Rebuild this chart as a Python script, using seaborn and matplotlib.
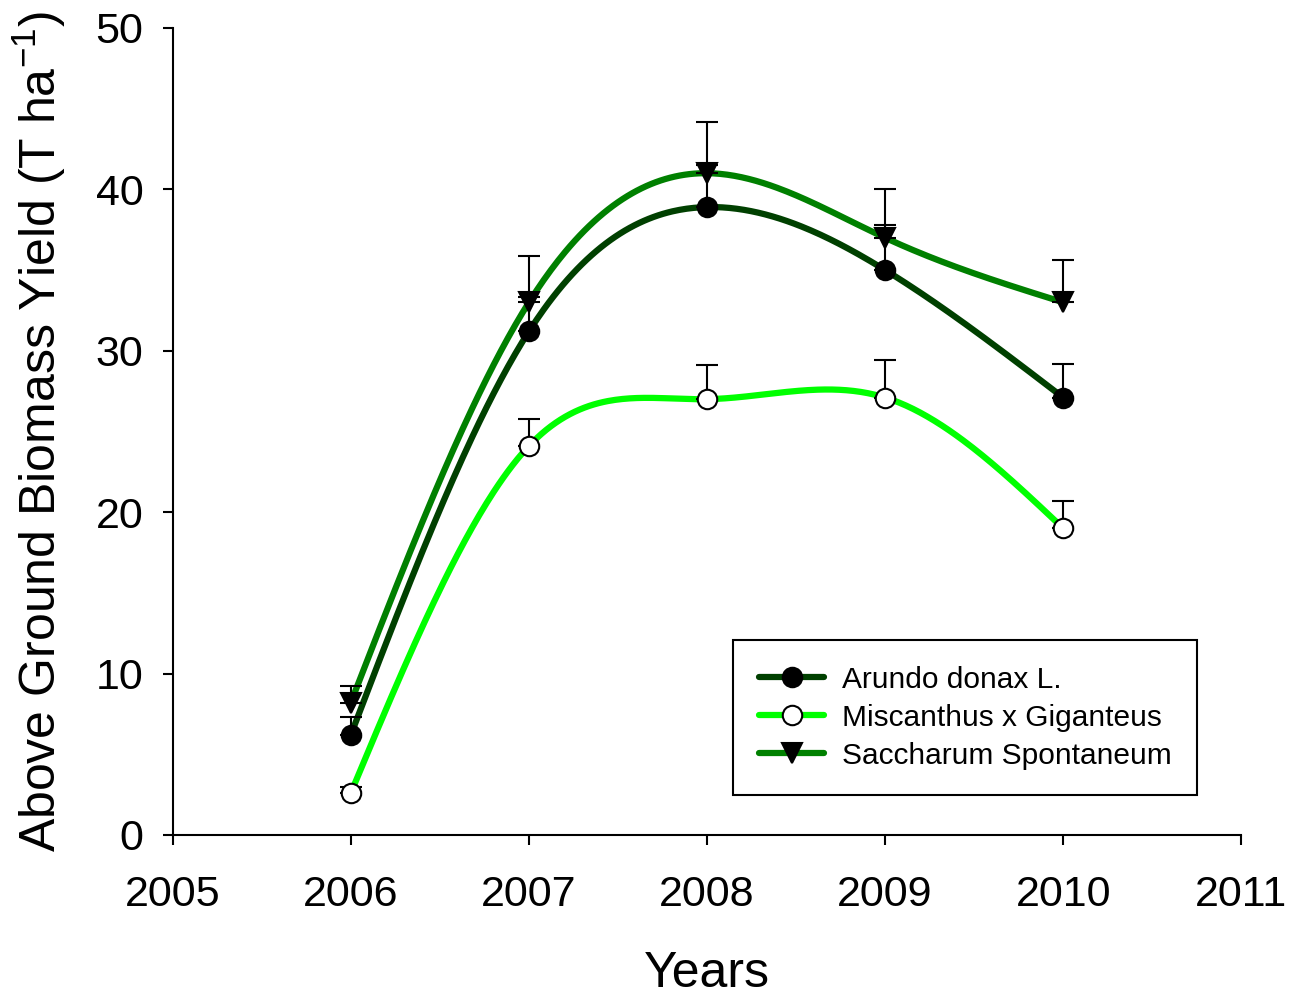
import numpy as np
import pandas as pd
import matplotlib
matplotlib.use("Agg")
import matplotlib.pyplot as plt
import seaborn as sns
from matplotlib.lines import Line2D

years = [2006, 2007, 2008, 2009, 2010]
arundo = [6.2, 31.2, 38.9, 35.0, 27.1]
arundo_err = [1.1, 2.1, 2.6, 2.8, 2.1]
miscanthus = [2.6, 24.1, 27.0, 27.1, 19.0]
miscanthus_err = [0.4, 1.7, 2.1, 2.3, 1.7]
saccharum = [8.2, 33.0, 41.0, 37.0, 33.0]
saccharum_err = [1.0, 2.9, 3.2, 3.0, 2.6]
labels = ["Arundo donax L.", "Miscanthus x Giganteus", "Saccharum Spontaneum"]
colors = ["#004000", "#00FF00", "#008000"]
xticks = [2005, 2006, 2007, 2008, 2009, 2010, 2011]
yticks = [0, 10, 20, 30, 40, 50]


def natural_spline(x, y, xs):
    x = np.asarray(x, float); y = np.asarray(y, float)
    n = len(x)
    h = np.diff(x)
    A = np.zeros((n, n)); b = np.zeros(n)
    A[0, 0] = 1; A[-1, -1] = 1
    for i in range(1, n - 1):
        A[i, i - 1] = h[i - 1]
        A[i, i] = 2 * (h[i - 1] + h[i])
        A[i, i + 1] = h[i]
        b[i] = 6 * ((y[i + 1] - y[i]) / h[i] - (y[i] - y[i - 1]) / h[i - 1])
    M = np.linalg.solve(A, b)
    out = np.empty_like(xs)
    for k, t in enumerate(xs):
        i = min(np.searchsorted(x, t, side="right") - 1, n - 2)
        i = max(i, 0)
        dx1 = x[i + 1] - t; dx0 = t - x[i]
        out[k] = (M[i] * dx1 ** 3 / (6 * h[i]) + M[i + 1] * dx0 ** 3 / (6 * h[i])
                  + (y[i] / h[i] - M[i] * h[i] / 6) * dx1
                  + (y[i + 1] / h[i] - M[i + 1] * h[i] / 6) * dx0)
    return out


sns.set_theme(style="ticks")
plt.rcParams["font.family"] = ["Liberation Sans", "DejaVu Sans"]
plt.rcParams["mathtext.default"] = "regular"
plt.rcParams["text.color"] = "black"
plt.rcParams["axes.labelcolor"] = "black"
plt.rcParams["xtick.color"] = "black"
plt.rcParams["ytick.color"] = "black"

fig = plt.figure(figsize=(12.89, 9.97), dpi=100)
ax = fig.add_axes([0.134, 0.1625, 0.829, 0.8095])

series = [(arundo, arundo_err, "o", "black"),
          (miscanthus, miscanthus_err, "o", "white"),
          (saccharum, saccharum_err, "v", "black")]

xs = np.linspace(years[0], years[-1], 300)
frames = []
for lab, (vals, _, _, _) in zip(labels, series):
    frames.append(pd.DataFrame({"year": xs, "value": natural_spline(years, vals, xs), "series": lab}))
curves = pd.concat(frames)
sns.lineplot(data=curves, x="year", y="value", hue="series", palette=dict(zip(labels, colors)),
             linewidth=4.5, ax=ax, legend=False, zorder=2, estimator=None, sort=False)

for lab, (vals, err, mk, fc) in zip(labels, series):
    ax.errorbar(years, vals, yerr=[np.zeros(len(err)), err], fmt="none", ecolor="black",
                elinewidth=1.5, capsize=8, capthick=1.5, zorder=3)

for lab, (vals, err, mk, fc), col in zip(labels, series, colors):
    ax.plot(years, vals, linestyle="none", marker=mk, markersize=14, markerfacecolor=fc,
            markeredgecolor="black", markeredgewidth=1.5, zorder=4)

ax.set_xlim(2005, 2011)
ax.set_ylim(0, 50)
ax.set_xticks(xticks)
ax.set_yticks(yticks)
ax.set_xticklabels([str(t) for t in xticks])
ax.tick_params(axis="both", which="major", labelsize=31, length=7, width=1.5, color="black",
               labelcolor="black", direction="out")
ax.tick_params(axis="x", pad=22)
ax.tick_params(axis="y", pad=14)
for s in ["left", "bottom"]:
    ax.spines[s].set_linewidth(1.5)
    ax.spines[s].set_color("black")
sns.despine(ax=ax)

ax.set_xlabel("Years", fontsize=36, labelpad=26, color="black")
ax.set_ylabel("Above Ground Biomass Yield (T ha$^{-1}$)", fontsize=36, labelpad=20, color="black")

handles = []
for (vals, err, mk, fc), col in zip(series, colors):
    handles.append(Line2D([0], [0], color=col, linewidth=4.5, marker=mk, markersize=14,
                          markerfacecolor=fc, markeredgecolor="black", markeredgewidth=1.5))
leg = ax.legend(handles, labels, loc="lower right", bbox_to_anchor=(0.959, 0.0496),
                borderaxespad=0, fontsize=21.5, frameon=True, fancybox=False, edgecolor="black",
                handlelength=2.2, borderpad=0.85, labelspacing=0.33, handletextpad=0.6)
leg.get_frame().set_linewidth(1.5)
leg.get_frame().set_alpha(1)
for t in leg.get_texts():
    t.set_color("black")

fig.savefig("out.png", dpi=100)
